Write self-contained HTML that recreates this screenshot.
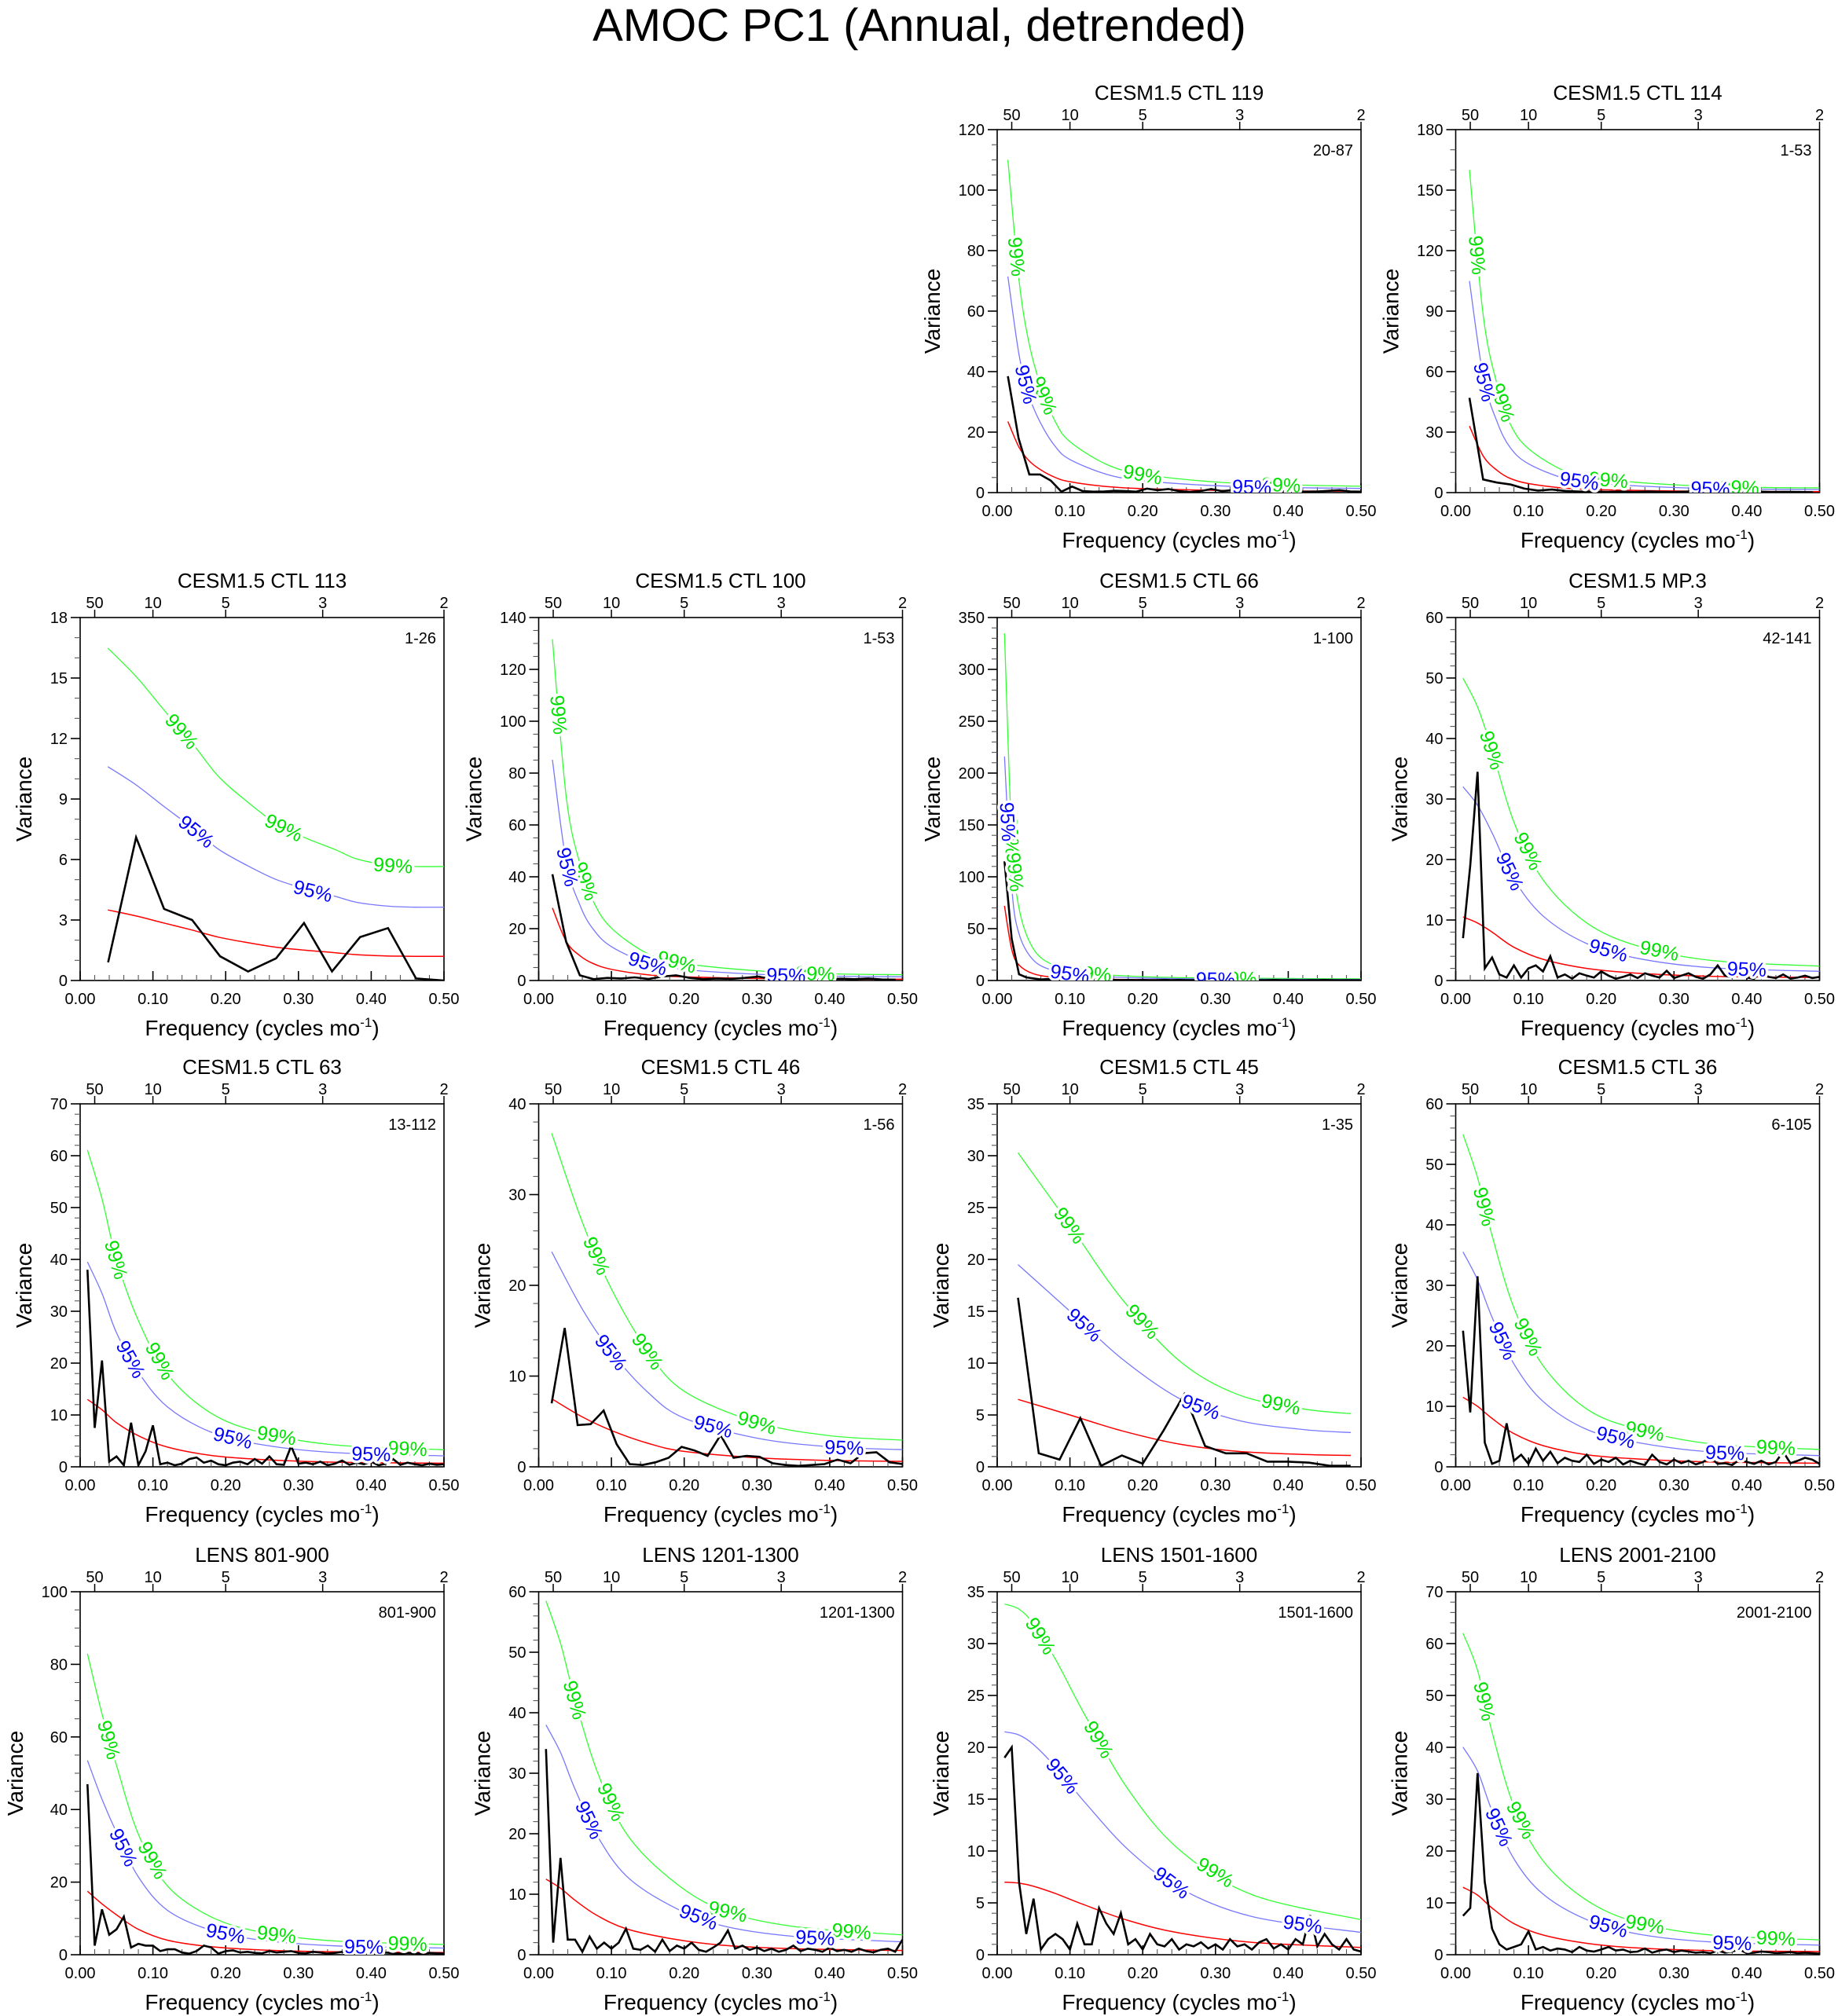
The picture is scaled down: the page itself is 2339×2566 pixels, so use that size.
<!DOCTYPE html>
<html><head><meta charset="utf-8"><title>AMOC PC1 (Annual, detrended)</title>
<style>
html,body{margin:0;padding:0;background:#fff;}
svg{display:block;font-family:"Liberation Sans",Arial,sans-serif;}
</style></head>
<body>
<svg id="fig" width="2339" height="2566" viewBox="0 0 2339 2566" xmlns="http://www.w3.org/2000/svg">
<rect x="0" y="0" width="2339" height="2566" fill="#fff"/>
<text x="1170" y="52" font-size="58" text-anchor="middle">AMOC PC1 (Annual, detrended)</text>
</svg>
<script>
// ---- data arrays (per panel) ----
const titles = ["CESM1.5 CTL 119","CESM1.5 CTL 114","CESM1.5 CTL 113","CESM1.5 CTL 100","CESM1.5 CTL 66","CESM1.5 MP.3","CESM1.5 CTL 63","CESM1.5 CTL 46","CESM1.5 CTL 45","CESM1.5 CTL 36","LENS 801-900","LENS 1201-1300","LENS 1501-1600","LENS 2001-2100"];
const ranges = ["20-87","1-53","1-26","1-53","1-100","42-141","13-112","1-56","1-35","6-105","801-900","1201-1300","1501-1600","2001-2100"];
const seriesLength = [68,53,26,53,100,100,100,56,35,100,100,100,100,100];
const yMax = [120,180,18,140,350,60,70,40,35,60,100,60,35,70];
const yStep = [20,30,3,20,50,10,10,10,5,10,20,10,5,10];
const yMinor = [5,10,1,5,10,2,2,2,1,2,5,2,1,2];
const factor95 = [3.04,3.18,3.03,3.04,3.0,3.05,3.04,3.16,3.0,3.09,3.06,3.04,3.07,3.08];
const factor99 = [4.68,4.85,4.71,4.7,4.65,4.76,4.7,4.9,4.66,4.78,4.74,4.68,4.83,4.77];
const spectrum = [
 [38.5,18,6,6,4,0.3,2,0.5,0.3,0.4,0.6,0.5,0.3,1.3,0.8,1.2,0.5,0.2,0.5,1.2,0.5,0.8,1.2,1.4,0.8,0.4,0.4,0.3,0.3,0.4,0.6,0.8,0.4,0.3],
 [47,6.5,5,4,2,1,1.5,0.8,0.5,0.6,0.4,0.5,0.3,0.6,0.4,0.3,0.5,0.4,0.3,0.4,0.3,0.5,0.3,0.4,0.3,0.2],
 [0.9,7.1,3.55,3.0,1.2,0.45,1.1,2.85,0.45,2.15,2.6,0.1,0.0],
 [41,15,2,0.5,1,0.8,1.2,0.6,1.5,2,1,0.5,0.8,0.6,1,1.5,0.5,0.8,0.6,0.4,0.5,0.7,0.5,0.8,0.4,0.3],
 [115,40,6,3,2,1,1.5,0.5,1,0.8,1.2,0.6,0.5,0.4,0.8,0.5,0.3,0.6,0.4,0.5,0.3,0.4,0.6,0.3,0.5,0.4,0.3,0.5,0.4,0.6,0.3,0.4,0.3,0.5,0.4,0.3,0.4,0.5,0.3,0.4,0.3,0.2,0.4,0.3,0.5,0.3,0.2,0.3,0.2,0.2],
 [7,19,34.5,2,3.8,1,0.5,2.5,0.5,2,2.5,1.5,4,0.5,1,0.3,1.2,0.8,0.5,1.5,0.8,0.3,0.6,1,0.4,1.2,0.8,0.5,1.6,0.4,0.8,1.2,0.6,0.3,1,2.5,0.8,0.5,1.2,0.5,0.3,1.5,0.6,0.4,1,0.3,0.5,0.8,0.4,0.6],
 [38,7.5,20.5,1,2,0.3,8.5,0.3,3,8,0.5,0.8,0.3,0.6,1.5,1.8,0.8,1.2,0.5,0.3,0.8,1,0.5,1.5,0.6,2,0.5,0.4,4,0.6,0.8,0.5,1,0.3,0.6,1.2,0.4,0.8,0.5,1,0.3,0.6,1.5,0.4,0.8,0.5,0.3,0.6,0.4,0.5],
 [7,15.3,4.6,4.7,6.2,2.5,0.3,0.2,0.5,1,2.2,1.8,1.2,3.5,1,1.2,1.1,0.4,0.2,0.1,0.2,0.3,0.8,0.4,1.5,1.6,0.5,0.3],
 [16.3,1.3,0.7,4.7,0.1,1.1,0.3,3.5,7,2,1.3,1.3,0.5,0.5,0.4,0.1,0.1],
 [22.5,9,31.5,4,0.5,1,7.2,1,2,0.5,3,1,2.5,0.6,1.5,1,0.8,2,0.5,1.2,0.8,1.5,0.4,1,0.6,0.3,2,0.8,0.4,1.2,0.6,1,0.4,0.8,1.5,0.5,0.6,0.3,1.2,0.8,0.5,1,0.4,0.8,2.5,0.6,1,1.5,1.2,0.5],
 [47,2.5,12.5,5.5,7,10.5,2,3,2.5,2.5,1,1.5,1.5,0.6,0.3,1,2.5,2,0.3,1,1.2,0.6,0.8,0.5,0.4,1,0.6,0.8,1,0.5,0.4,0.8,0.6,0.3,0.5,0.8,0.4,0.6,0.5,0.3,0.5,0.6,0.4,0.3,0.5,0.4,0.3,0.5,0.4,0.3],
 [34,2,16,2.5,2.5,0.5,3,1,2,1,2,4.3,1,0.8,1.5,0.5,2.5,0.6,1.5,1,2,0.8,0.5,1.2,2,4,1,1.5,0.8,1.2,0.6,1,0.5,0.8,1.5,0.6,1,0.8,0.5,1.2,0.6,0.8,0.5,1,0.6,0.4,0.8,1,0.5,2.5],
 [19,20,7,2,5.4,0.5,1.5,2,1.5,0.5,3,1,1,4.5,3,2,4,1,1.5,0.5,2,1,0.8,1.5,0.5,1,0.8,1.2,0.6,1,0.5,1.5,0.8,1,0.5,1.2,1.5,0.6,1,0.5,1.5,1,3.8,0.8,2,1,0.5,1.5,0.5,0.3],
 [7.5,9,35,14,5,2,1,1.5,2,4.5,1,1.5,0.8,1.2,1,0.5,1.5,0.8,0.6,1,1.5,0.8,1,0.5,0.6,1.2,0.4,0.8,1,0.5,0.8,0.6,0.4,0.5,0.3,0.8,0.4,0.6,1,0.3,0.4,0.6,0.5,0.3,0.4,0.5,0.3,0.4,0.3,0.2]
];
const redFreq = [
 [0.0147,0.03,0.044,0.06,0.08,0.1,0.15,0.2,0.3,0.4,0.5],
 [0.0189,0.038,0.057,0.075,0.1,0.15,0.2,0.3,0.4,0.5],
 [0.038,0.077,0.115,0.154,0.19,0.23,0.27,0.31,0.35,0.38,0.42,0.46,0.5],
 [0.0189,0.038,0.057,0.075,0.1,0.15,0.2,0.3,0.4,0.5],
 [0.01,0.02,0.03,0.05,0.08,0.12,0.2,0.3,0.5],
 [0.01,0.03,0.05,0.08,0.12,0.18,0.25,0.35,0.5],
 [0.01,0.03,0.05,0.08,0.12,0.18,0.25,0.35,0.5],
 [0.0179,0.06,0.1,0.15,0.2,0.3,0.4,0.5],
 [0.0286,0.1,0.17,0.25,0.33,0.42,0.486],
 [0.01,0.03,0.05,0.08,0.12,0.18,0.25,0.35,0.5],
 [0.01,0.03,0.05,0.08,0.12,0.18,0.25,0.35,0.5],
 [0.01,0.03,0.05,0.08,0.12,0.18,0.25,0.35,0.5],
 [0.01,0.03,0.05,0.08,0.12,0.18,0.25,0.35,0.5],
 [0.01,0.03,0.05,0.08,0.12,0.18,0.25,0.35,0.5]
];
const redValue = [
 [23.5,15,10.5,7.5,5,3.6,2,1.3,0.75,0.55,0.45],
 [33,18,11,7,4.5,2.2,1.4,0.8,0.55,0.48],
 [3.5,3.2,2.85,2.5,2.15,1.88,1.65,1.5,1.38,1.28,1.22,1.2,1.2],
 [28,15,9.5,6.5,4.3,2.2,1.4,0.8,0.55,0.48],
 [72,30,15,6.5,3,1.6,0.8,0.5,0.35],
 [10.5,9.5,8,5.5,3.5,2,1.2,0.7,0.5],
 [13,11,8.5,6,3.8,2.2,1.4,0.9,0.7],
 [7.5,5.5,4,2.6,1.7,1,0.7,0.6],
 [6.5,5,3.5,2.2,1.5,1.2,1.1],
 [11.5,10,8,5.5,3.5,2,1.3,0.8,0.6],
 [17.5,14,11,7,4,2.2,1.3,0.8,0.6],
 [12.5,11,9,6.5,4.3,2.7,1.6,1,0.7],
 [7,6.9,6.6,5.9,4.8,3.3,2.1,1.2,0.7],
 [13,11.5,9,6,3.8,2.2,1.3,0.8,0.6]
];
const label95Freq = [[0.04,0.35],[0.04,0.17,0.35],[0.16,0.32],[0.04,0.15,0.34],[0.015,0.1,0.3],[0.075,0.21,0.4],[0.07,0.21,0.4],[0.1,0.24,0.42],[0.12,0.28],[0.065,0.22,0.37],[0.06,0.2,0.39],[0.07,0.22,0.38],[0.09,0.24,0.42],[0.06,0.21,0.38]];
const label99Freq = [[0.027,0.065,0.2,0.39],[0.03,0.065,0.21,0.39],[0.14,0.28,0.43],[0.028,0.065,0.19,0.38],[0.02,0.025,0.13,0.33],[0.05,0.1,0.28],[0.05,0.11,0.27,0.45],[0.08,0.15,0.3],[0.1,0.2,0.39],[0.04,0.1,0.26,0.44],[0.04,0.1,0.27,0.45],[0.05,0.1,0.26,0.43],[0.06,0.14,0.3],[0.04,0.09,0.26,0.44]];
const xTickLabels = ["0.00","0.10","0.20","0.30","0.40","0.50"];
const periodLabels = [50,10,5,3,2];

// ---- layout ----
const colLeft = [102,685.5,1269,1852.5];
const rowTop = [165,786,1405,2026];
const PW = 463, PH = 462;
const slots = [[0,2],[0,3],[1,0],[1,1],[1,2],[1,3],[2,0],[2,1],[2,2],[2,3],[3,0],[3,1],[3,2],[3,3]];
const NS = "http://www.w3.org/2000/svg";
const svg = document.getElementById('fig');
function mk(tag, attrs, parent){const e=document.createElementNS(NS,tag);for(const k in attrs)e.setAttribute(k,attrs[k]);parent.appendChild(e);return e;}
function interp(xs, ys, x){
  if (x<=xs[0]) return ys[0];
  for(let i=1;i<xs.length;i++){ if(x<=xs[i]){const t=(x-xs[i-1])/(xs[i]-xs[i-1]);return ys[i-1]+t*(ys[i]-ys[i-1]);} }
  return ys[ys.length-1];
}
function smoothPath(pts){
  let d='M'+pts[0][0].toFixed(1)+','+pts[0][1].toFixed(1);
  for(let i=0;i<pts.length-1;i++){
    const p0=pts[Math.max(0,i-1)], p1=pts[i], p2=pts[i+1], p3=pts[Math.min(pts.length-1,i+2)];
    const c1=[p1[0]+(p2[0]-p0[0])/6, p1[1]+(p2[1]-p0[1])/6];
    const c2=[p2[0]-(p3[0]-p1[0])/6, p2[1]-(p3[1]-p1[1])/6];
    d+=` C${c1[0].toFixed(1)},${c1[1].toFixed(1)} ${c2[0].toFixed(1)},${c2[1].toFixed(1)} ${p2[0].toFixed(1)},${p2[1].toFixed(1)}`;
  }
  return d;
}

titles.forEach((title, p) => {
  const L = colLeft[slots[p][1]], T = rowTop[slots[p][0]];
  const xs = f => L + f/0.5*PW;
  const ys = v => T + PH - Math.min(v, yMax[p]*1.02)/yMax[p]*PH;
  const g = mk('g', {}, svg);
  
  
  const cid = 'clip'+p;
  const cp = mk('clipPath',{id:cid},g); mk('rect',{x:L,y:T,width:PW,height:PH},cp);

  const tt = mk('text',{x:L+PW/2,y:T-38,'font-size':26,'text-anchor':'middle'},g); tt.textContent = title;
  
  
  const rl = mk('text',{x:L+PW-10,y:T+33,'font-size':20,'text-anchor':'end'},g); rl.textContent = ranges[p];
  
  

  const fr = mk('rect',{x:L,y:T,width:PW,height:PH,fill:'none',stroke:'#000','stroke-width':1.6},g);
  
  

  const ya = mk('g',{},g);
  
  
  for(let v=0; v<=yMax[p]+1e-9; v+=yMinor[p]){
    const y = ys(v);
    const major = Math.abs(v/yStep[p]-Math.round(v/yStep[p]))<1e-6;
    mk('line',{x1:L-(major?12:7),x2:L,y1:y,y2:y,stroke:major?'#000':'#555','stroke-width':major?1.6:1.1},ya);
    if(major){const t=mk('text',{x:L-16,y:y+7,'font-size':20,'text-anchor':'end'},ya);t.textContent=String(Math.round(v*100)/100);}
  }
  const chars = String(yMax[p]).length;
  const yl = mk('text',{x:0,y:0,'font-size':28,'text-anchor':'middle',transform:`translate(${L-(14+chars*11+36)+10},${T+PH/2}) rotate(-90)`},g);
  yl.textContent = 'Variance';
  
  

  const xa = mk('g',{},g);
  
  
  for(let i=0;i<=25;i++){
    const f=i*0.02, x=xs(f), major=i%5===0;
    mk('line',{x1:x,x2:x,y1:T+PH,y2:T+PH-(major?12:7),stroke:major?'#000':'#555','stroke-width':major?1.6:1.1},xa);
  }
  xTickLabels.forEach((lab,i)=>{const t=mk('text',{x:xs(i*0.1),y:T+PH+30,'font-size':20,'text-anchor':'middle'},xa);t.textContent=lab;});
  const xt = mk('text',{x:L+PW/2,y:T+PH+70,'font-size':28,'text-anchor':'middle'},g);
  xt.innerHTML = 'Frequency (cycles mo<tspan dy="-11" font-size="17">-1</tspan><tspan dy="11">)</tspan>';
  
  

  const ta = mk('g',{},g);
  
  
  periodLabels.forEach(per=>{
    const x=xs(1/per);
    mk('line',{x1:x,x2:x,y1:T,y2:T-10,stroke:'#000','stroke-width':1.5},ta);
    const t=mk('text',{x:x,y:T-12,'font-size':20,'text-anchor':'middle'},ta);t.textContent=String(per);
  });

  const N = seriesLength[p];
  const fx = redFreq[p];
  const curve = (fac) => smoothPath(fx.map((f,i)=>[xs(f), ys(redValue[p][i]*fac)]));
  const plotG = mk('g',{'clip-path':`url(#${cid})`},g);
  const g99 = mk('path',{d:curve(factor99[p]),fill:'none',stroke:'#33ff33','stroke-width':1.3},plotG);
  
  
  const g95 = mk('path',{d:curve(factor95[p]),fill:'none',stroke:'#7777ff','stroke-width':1.3},plotG);
  
  

  const addLabels = (freqs, fac, txt, color, nm) => {
    freqs.forEach(f=>{
      const v = interp(fx, redValue[p], f)*fac;
      const d = 0.004;
      const y1 = ys(interp(fx, redValue[p], f-d)*fac), y2 = ys(interp(fx, redValue[p], f+d)*fac);
      let ang = Math.atan2(y2-y1, xs(f+d)-xs(f-d))*180/Math.PI;
      const x=xs(f), y=ys(v);
      const t = mk('text',{x:x,y:y+9,'font-size':25,'text-anchor':'middle',fill:color,stroke:'#fff','stroke-width':7,'paint-order':'stroke','stroke-linejoin':'round',transform:`rotate(${ang.toFixed(1)},${x.toFixed(1)},${y.toFixed(1)})`},plotG);
      t.textContent = txt;
      
      
    });
  };

  const rd = mk('path',{d:curve(1),fill:'none',stroke:'#ff0000','stroke-width':1.5},plotG);
  
  

  let d='';
  spectrum[p].forEach((v,k)=>{ d += (k===0?'M':'L') + xs((k+1)/N).toFixed(1)+','+ys(v).toFixed(1)+' '; });
  const bl = mk('path',{d:d,fill:'none',stroke:'#000','stroke-width':2.6,'stroke-linejoin':'miter'},plotG);
  
  

  addLabels(label99Freq[p], factor99[p], '99%', '#00e000', 'label-99');
  addLabels(label95Freq[p], factor95[p], '95%', '#0000ff', 'label-95');
});
</script>
</body></html>
